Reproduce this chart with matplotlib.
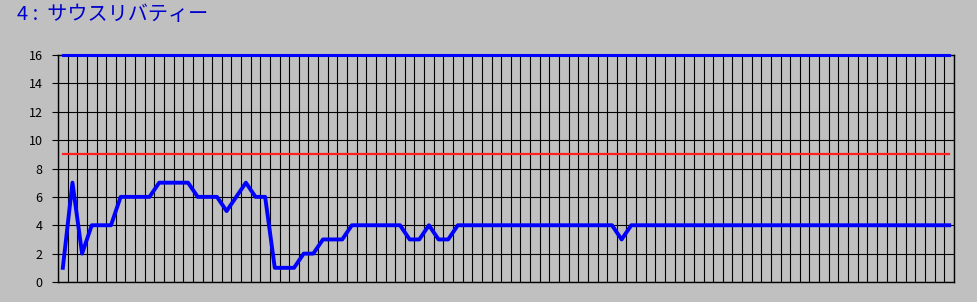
# Trend chart: サウスリバティー, values per slot with limit lines
import matplotlib.pyplot as plt
import numpy as np

plt.rcParams['font.family'] = ['Noto Sans CJK JP', 'DejaVu Sans']

title = "4 :  サウスリバティー"
values = ([1, 7, 2, 4, 4, 4, 6, 6, 6, 6, 7, 7, 7, 7, 6, 6, 6, 5, 6, 7, 6, 6,
           1, 1, 1, 2, 2, 3, 3, 3, 4, 4, 4, 4, 4, 4, 3, 3, 4, 3, 3, 4]
          + [4] * 16 + [3] + [4] * 34)
upper_limit = 16
threshold = 9
yticks = [0, 2, 4, 6, 8, 10, 12, 14, 16]

bg = "#c0c0c0"
n = len(values)
x = np.arange(n) + 0.5

fig = plt.figure(figsize=(9.77, 3.02), dpi=100, facecolor=bg)
ax = fig.add_axes([58 / 977, 20 / 302, 896 / 977, 227 / 302], facecolor=bg)

ax.set_xlim(0, n)
ax.set_ylim(0, 16)
ax.set_xticks(np.arange(0, n + 1), minor=False)
ax.set_yticks(yticks)
ax.grid(True, color="black", linewidth=0.8)
ax.tick_params(axis="x", length=0, labelbottom=False)
ax.tick_params(axis="y", length=4, width=0.8, color="black", pad=7,
               labelsize=9, labelcolor="black")
for s in ax.spines.values():
    s.set_color("black")
    s.set_linewidth(1.0)

ax.plot(x, [threshold] * n, color="#ff2020", linewidth=1.6, zorder=3)
ax.plot(x, [upper_limit] * n, color="#0000ff", linewidth=2.2, zorder=4,
        clip_on=False)
ax.plot(x, values, color="#0000ff", linewidth=2.8, zorder=5)

fig.text(17 / 977, 1 - 15 / 302, title, color="#0000cc", fontsize=14.5,
         ha="left", va="center")

fig.savefig("out.png", dpi=100, facecolor=bg)
